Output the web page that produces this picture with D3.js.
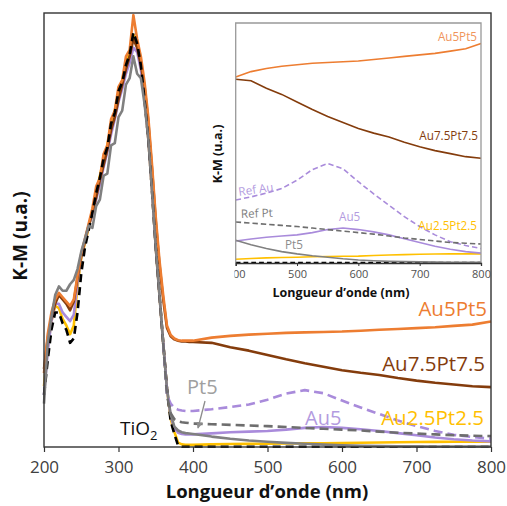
<!DOCTYPE html>
<html><head><meta charset="utf-8">
<script src="https://cdn.jsdelivr.net/npm/d3@7/dist/d3.min.js"></script>
<style>
html,body{margin:0;padding:0;background:#fff;}
svg{display:block;}
text{font-family:"Open Sans",sans-serif;}
</style></head>
<body>
<svg id="chart" width="507" height="506"></svg>
<script>
// ---------- DATA ----------
const wavelengths = [200,205,210,215,220,225,230,235,240,245,250,255,260,265,270,275,280,285,290,295,
  300,305,310,315,320,325,330,335,340,345,350,355,360,365,370,375,380,385,390,395,
  400,425,450,475,500,525,550,575,600,625,650,675,700,725,750,775,800];

const au5pt5 = [17,26,31,34,35.5,34.5,33.5,32.5,34,39.5,44.5,48,51.5,55,60,62,67.5,69.5,75.5,77.5,
  83,84.5,90,91.5,99.5,94,90,84,76,65,53,43,35,28,25.8,25,24.6,24.5,24.5,24.5,
  24.5,25.2,25.6,25.9,26.1,26.3,26.4,26.5,26.6,26.8,27.0,27.2,27.4,27.6,27.9,28.2,28.9];

const au75pt75 = [18,25,30,33,35,34,33,31.5,33.5,39,44,47.5,51,54,57.5,61.5,65,68.5,73,76,
  80,83.5,87,90,94,92,88,83,75,64,52,42,34,27.5,25.5,24.8,24.5,24.3,24.3,24.2,
  24.2,24.0,23.0,22.2,21.2,20.2,19.3,18.5,17.7,17.1,16.6,15.9,15.3,14.8,14.4,14.0,13.8];

const au5 = [12,22,29,33,33,31,30,29,30.5,38,44,47.5,51,53.5,57,60.5,64.5,68,72,75.5,
  79.5,82.5,86,88.5,92,91,87,80,71,59,46,35,24,13.5,7,4.3,3.3,3.0,2.9,2.9,
  2.9,3.15,3.4,3.55,3.7,4.0,4.4,4.6,4.4,4.1,3.7,3.2,2.7,2.2,1.8,1.5,1.3];

const au25pt25 = [14,23,29,32.5,32,29.5,28,26,28,37,43.5,47,50.5,54.5,58,62.5,66,69.5,74,77.5,
  81.5,84.5,88.5,91,95,92.5,87.5,80,71,59,46,35,24,13.5,6.5,3.5,1.0,0.6,0.5,0.5,
  0.5,0.6,0.68,0.72,0.75,0.82,0.86,0.88,0.9,0.98,1.05,1.1,1.15,1.18,1.2,1.2,1.2];

const pt5 = [10,24,30,35,37,36,36,37.5,38.5,41,45,48,51,50.5,55.5,57,62.5,63,69.5,70,
  76,77.5,83.5,85,90,86,85,79,71,59,46,35,24,13.5,7.5,4.7,3.8,3.4,3.2,3.1,
  3.0,2.4,1.9,1.5,1.2,0.95,0.75,0.55,0.4,0.3,0.22,0.18,0.15,0.12,0.1,0.1,0.1];

const tio2 = [12,20,27,31,31,28.5,27,24,25,31,40,46,50,54,58.5,62,66.5,69,74.5,77,
  82,84,88,90.5,95.5,93,88,80,71,59,46,35,24,13.5,6,3,0.3,0.05,0.05,0.05,
  0.05,0.05,0.05,0.05,0.05,0.05,0.05,0.05,0.05,0.05,0.05,0.05,0.05,0.05,0.05,0.05,0.05];

const refAu = [null,null,null,null,null,null,null,null,null,null,null,null,null,null,null,null,null,null,null,null,
  null,null,null,null,null,null,null,null,null,null,null,null,24,12,10,9,8.6,8.4,8.3,8.3,
  8.3,8.7,9.2,9.8,10.9,12.3,13.1,12.4,10.7,9.1,7.6,6.1,4.8,3.7,2.8,2.3,1.9];

const refPt = [null,null,null,null,null,null,null,null,null,null,null,null,null,null,null,null,null,null,null,null,
  null,null,null,null,null,null,null,null,null,null,null,null,24,12,7.8,6.4,5.9,5.7,5.6,5.5,
  5.4,5.25,5.1,4.95,4.8,4.6,4.4,4.2,4.0,3.8,3.55,3.3,3.1,2.9,2.7,2.6,2.5];

const mainTicks = [200,300,400,500,600,700,800];
const insetTicks = [400,500,600,700,800];

// ---------- STYLE ----------
const series = [
  {name:"Au2.5Pt2.5", values:au25pt25, color:"#FFC000", dash:null},
  {name:"Au5", values:au5, color:"#A98BDB", dash:null},
  {name:"Au7.5Pt7.5", values:au75pt75, color:"#843C0C", dash:null},
  {name:"Au5Pt5", values:au5pt5, color:"#ED7D31", dash:null},
  {name:"TiO2", values:tio2, color:"#000000", dash:[8,5]},
  {name:"Pt5", values:pt5, color:"#808080", dash:null},
  {name:"Ref Au", values:refAu, color:"#A98BDB", dash:[9,5]},
  {name:"Ref Pt", values:refPt, color:"#6E6E6E", dash:[9,5]}
];

const svg = d3.select("#chart");
const defs = svg.append("defs");

// ---------- MAIN ----------
const x = d3.scaleLinear().domain([200,800]).range([44,491]);
const y = d3.scaleLinear().domain([0,100]).range([447,13]);

const mainLine = d3.line()
  .defined(d => d[1] !== null)
  .x(d => x(d[0])).y(d => y(d[1]));

const gMain = svg.append("g");
series.forEach(s => {
  const pts = wavelengths.map((w,i) => [w, s.values[i]]);
  gMain.append("path").datum(pts)
    .attr("d", mainLine)
    .attr("fill","none")
    .attr("stroke", s.color)
    .attr("stroke-width", 2.6)
    .attr("stroke-linejoin","round")
    .attr("stroke-dasharray", s.dash ? s.dash.join(",") : null);
});

// frame
svg.append("rect").attr("x",44).attr("y",13).attr("width",447).attr("height",434)
  .attr("fill","none").attr("stroke","#333").attr("stroke-width",1.4);

const xAxis = d3.axisBottom(x).tickValues(mainTicks).tickSize(5).tickPadding(9);
const gx = svg.append("g").attr("transform","translate(0,447)").call(xAxis);
gx.select(".domain").remove();
gx.selectAll(".tick line").attr("stroke","#333").attr("stroke-width",1.2);
gx.selectAll(".tick text").attr("font-family","'Liberation Sans',Arial,sans-serif")
  .attr("font-size",17).attr("fill","#404040");

svg.append("text").attr("x",267).attr("y",498).attr("text-anchor","middle")
  .attr("font-weight","bold").attr("font-size",18.5).attr("fill","#111")
  .text("Longueur d’onde (nm)");

svg.append("text").attr("transform","translate(27,236) rotate(-90)")
  .attr("text-anchor","middle").attr("font-weight","bold").attr("font-size",19).attr("fill","#111")
  .text("K-M (u.a.)");

// main labels
const lab = (t, xx, yy, anchor, color, size) =>
  svg.append("text").attr("x",xx).attr("y",yy).attr("text-anchor",anchor)
    .attr("fill",color).attr("font-size",size).text(t);
lab("Au5Pt5", 487, 316, "end", "#ED7D31", 20.5);
lab("Au7.5Pt7.5", 485, 371, "end", "#843C0C", 20.5);
lab("Au5", 305, 425, "start", "#B39BE0", 20);
lab("Au2.5Pt2.5", 484, 425, "end", "#FFC000", 20.5);
lab("Pt5", 187, 394, "start", "#A0A0A0", 20);
const tio = svg.append("text").attr("x",120).attr("y",435).attr("fill","#111").attr("font-size",19);
tio.append("tspan").text("TiO");
tio.append("tspan").attr("font-size",13).attr("dy",5).text("2");

// Pt5 arrow
defs.append("marker").attr("id","arr").attr("viewBox","0 0 10 10")
  .attr("refX",9).attr("refY",5).attr("markerWidth",5).attr("markerHeight",5)
  .attr("orient","auto").append("path").attr("d","M0,0 L10,5 L0,10 z").attr("fill","#8c8c8c");
svg.append("line").attr("x1",205).attr("y1",401).attr("x2",198).attr("y2",428)
  .attr("stroke","#8c8c8c").attr("stroke-width",1.3).attr("marker-end","url(#arr)");

// ---------- INSET ----------
const xi = d3.scaleLinear().domain([400,800]).range([235.7,481]);
const yi = d3.scaleLinear().domain([0,31.6]).range([263,23]);

const gIn = svg.append("g");
gIn.append("rect").attr("x",235.7).attr("y",23).attr("width",245.3).attr("height",240)
  .attr("fill","#fff");
defs.append("clipPath").attr("id","inclip").append("rect")
  .attr("x",235.7).attr("y",23).attr("width",246).attr("height",241);
defs.append("clipPath").attr("id","labclip").append("rect")
  .attr("x",234.5).attr("y",-6).attr("width",260).attr("height",40);

const inLine = d3.line().defined(d => d[1] !== null)
  .x(d => xi(d[0])).y(d => yi(d[1]));
const gCurves = gIn.append("g").attr("clip-path","url(#inclip)");
series.forEach(s => {
  const pts = wavelengths.map((w,i) => [w, s.values[i]]).filter(d => d[0] >= 400);
  gCurves.append("path").datum(pts)
    .attr("d", inLine)
    .attr("fill","none")
    .attr("stroke", s.color)
    .attr("stroke-width", 1.6)
    .attr("stroke-dasharray", s.dash ? s.dash.map(v => v*0.6).join(",") : null);
});

gIn.append("path").attr("d","M235.7,263 V23 H481 V263")
  .attr("fill","none").attr("stroke","#999").attr("stroke-width",1.3);

const xiAxis = d3.axisBottom(xi).tickValues(insetTicks).tickSize(3).tickPadding(4);
const gxi = gIn.append("g").attr("transform","translate(0,263)")
  .attr("clip-path","url(#labclip)").call(xiAxis);
gxi.select(".domain").attr("stroke","#333").attr("stroke-width",1.3);
gxi.selectAll(".tick line").attr("stroke","#333");
gxi.selectAll(".tick text").attr("font-family","'Liberation Sans',Arial,sans-serif")
  .attr("font-size",11).attr("fill","#505050");

gIn.append("text").attr("x",341).attr("y",297).attr("text-anchor","middle")
  .attr("font-weight","bold").attr("font-size",12.5).attr("fill","#111")
  .text("Longueur d’onde (nm)");
gIn.append("text").attr("transform","translate(222,154) rotate(-90)")
  .attr("text-anchor","middle").attr("font-weight","bold").attr("font-size",12.5).attr("fill","#111")
  .text("K-M (u.a.)");

const ilab = (t, xx, yy, anchor, color, rot) =>
  gIn.append("text").attr("x",xx).attr("y",yy).attr("text-anchor",anchor)
    .attr("fill",color).attr("font-size",11.7)
    .attr("transform", rot ? `rotate(${rot},${xx},${yy})` : null).text(t);
ilab("Au5Pt5", 477, 41, "end", "#F0945A");
ilab("Au7.5Pt7.5", 478, 140, "end", "#843C0C");
ilab("Ref Au", 239, 196, "start", "#B39BE0", -8);
ilab("Ref Pt", 241, 218, "start", "#7F7F7F", -2);
ilab("Au5", 339, 221, "start", "#B39BE0");
ilab("Au2.5Pt2.5", 477, 230, "end", "#FFC000");
ilab("Pt5", 285, 249, "start", "#8C8C8C");
</script>
</body></html>
